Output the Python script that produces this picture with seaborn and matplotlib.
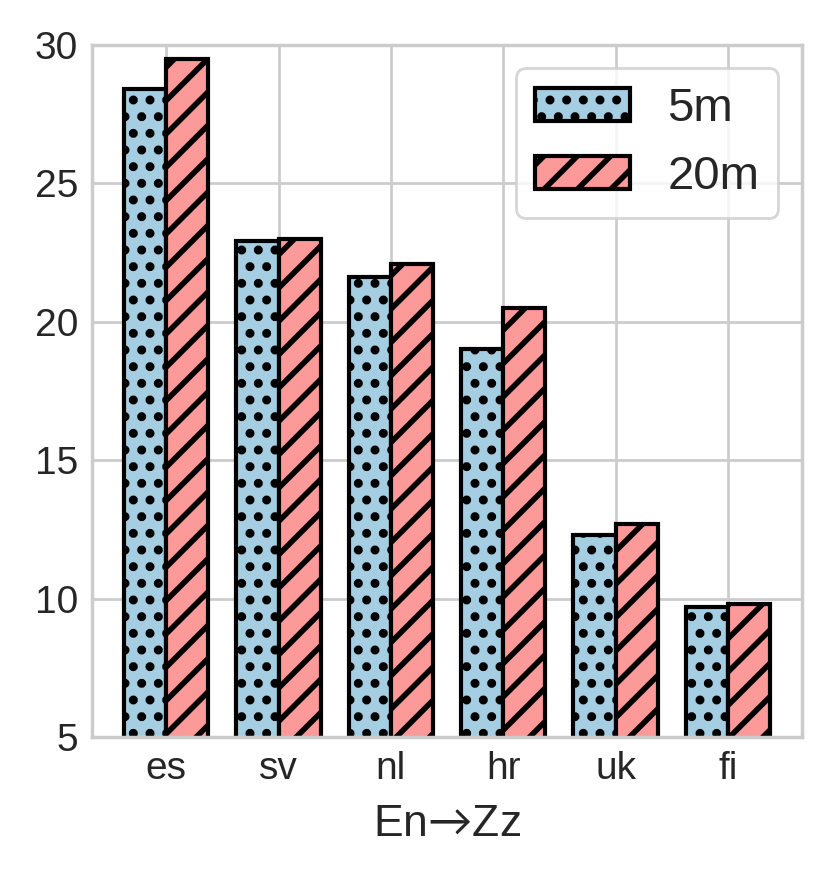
import seaborn as sns
import pandas as pd
import matplotlib.pyplot as plt

langs = ["es", "sv", "nl", "hr", "uk", "fi"]
scores_5m = [28.4, 22.9, 21.6, 19.0, 12.3, 9.7]
scores_20m = [29.5, 23.0, 22.1, 20.5, 12.7, 9.8]
series = ["5m", "20m"]

df = pd.DataFrame({
    "lang": langs * 2,
    "score": scores_5m + scores_20m,
    "model": ["5m"] * len(langs) + ["20m"] * len(langs),
})

sns.set_theme(style="whitegrid")
plt.rcParams['font.family'] = ['Liberation Sans', 'DejaVu Sans']
plt.rcParams['hatch.linewidth'] = 2.0
# thin, long arrow for the axis label
plt.rcParams['mathtext.fontset'] = 'custom'
plt.rcParams['mathtext.rm'] = 'Lato'
plt.rcParams['mathtext.it'] = 'Lato:italic'
plt.rcParams['mathtext.bf'] = 'Lato:bold'

fig, ax = plt.subplots(figsize=(4.16, 4.4), dpi=200)
fig.subplots_adjust(left=0.1106, right=0.964, bottom=0.1625, top=0.949)

sns.barplot(data=df, x="lang", y="score", hue="model", order=langs, hue_order=series,
            palette=["#a6cee3", "#fb9a99"], saturation=1, width=0.75,
            edgecolor="black", linewidth=1.5, legend=False, ax=ax)

for cont, hatch in zip(ax.containers, ["..", "//"]):
    for bar in cont:
        bar.set_hatch(hatch)

ax.grid(True, axis="both")
ax.set_axisbelow(True)
ax.set_ylim(5, 30)
ax.set_xlim(-0.66, 5.66)
ax.set_xlabel(r"En$\mathrm{→}$Zz", fontsize=16, labelpad=6)
ax.set_ylabel("")
ax.tick_params(axis="both", labelsize=14, length=0, pad=5)
ax.legend(ax.containers, series, loc="upper right", fontsize=17, handlelength=2.0)

fig.savefig("out.png", dpi=200)
